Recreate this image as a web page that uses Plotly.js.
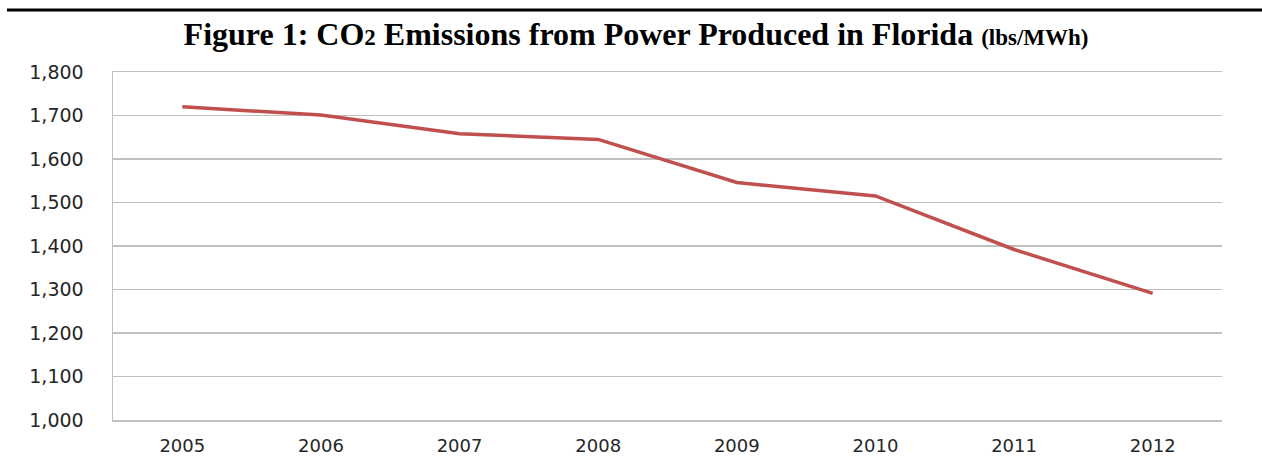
<!DOCTYPE html>
<html>
<head>
<meta charset="utf-8">
<script src="https://cdn.plot.ly/plotly-3.0.1.min.js"></script>
<style>html,body{margin:0;padding:0;background:#fff;}#chart{width:1262px;height:459px;}</style>
</head>
<body>
<div id="chart"></div>
<script>
const years = ['2005','2006','2007','2008','2009','2010','2011','2012'];
const emissions = [1720, 1701, 1658, 1645, 1546, 1515, 1392, 1291];
const yTickVals = [1000,1100,1200,1300,1400,1500,1600,1700,1800];
const yTickText = ['1,000','1,100','1,200','1,300','1,400','1,500','1,600','1,700','1,800'];
const titleMain = 'Figure 1: CO<span style="font-size:23px">2</span> Emissions from Power Produced in Florida';
const titleUnit = ' <span style="font-size:23px">(lbs/MWh)</span>';

const W = 1262, H = 459;
const margin = {l:113, r:40, t:72, b:39, pad:0};
const plotW = W - margin.l - margin.r, plotH = H - margin.t - margin.b;

const trace = {
  x: years, y: emissions, type: 'scatter', mode: 'lines',
  line: {color: '#c0504d', width: 3.5},
  hoverinfo: 'skip'
};

const layout = {
  width: W, height: H, margin: margin,
  paper_bgcolor: '#ffffff', plot_bgcolor: '#ffffff',
  showlegend: false,
  title: {
    text: titleMain + titleUnit,
    font: {family: '"Liberation Serif", "Times New Roman", serif', size: 32, color: '#000000', weight: 'bold'},
    x: 0.504, xref: 'container', xanchor: 'center',
    y: 1 - 34/H, yref: 'container', yanchor: 'middle'
  },
  xaxis: {
    type: 'category', range: [-0.5, 7.5],
    showgrid: false, showline: true, mirror: true, linecolor: '#bfbfbf', linewidth: 1.5,
    ticks: '', ticklabelstandoff: 9,
    tickfont: {family: '"DejaVu Sans", Verdana, sans-serif', size: 18, color: '#262626'},
    zeroline: false, fixedrange: true
  },
  yaxis: {
    range: [1000, 1800], tickvals: yTickVals, ticktext: yTickText,
    showgrid: true, gridcolor: '#bfbfbf', gridwidth: 1.5,
    showline: true, linecolor: '#bfbfbf', linewidth: 1.5,
    ticks: '', ticklabelstandoff: 24,
    tickfont: {family: '"DejaVu Sans", Verdana, sans-serif', size: 19, color: '#262626'},
    zeroline: false, fixedrange: true
  },
  shapes: [{
    type: 'line', xref: 'paper', yref: 'paper',
    x0: (7 - margin.l)/plotW, x1: (W - margin.l)/plotW,
    y0: (H - margin.b - 10)/plotH, y1: (H - margin.b - 10)/plotH,
    line: {color: '#000000', width: 3}
  }]
};

Plotly.newPlot('chart', [trace], layout, {displayModeBar: false, staticPlot: true});
</script>
</body>
</html>
